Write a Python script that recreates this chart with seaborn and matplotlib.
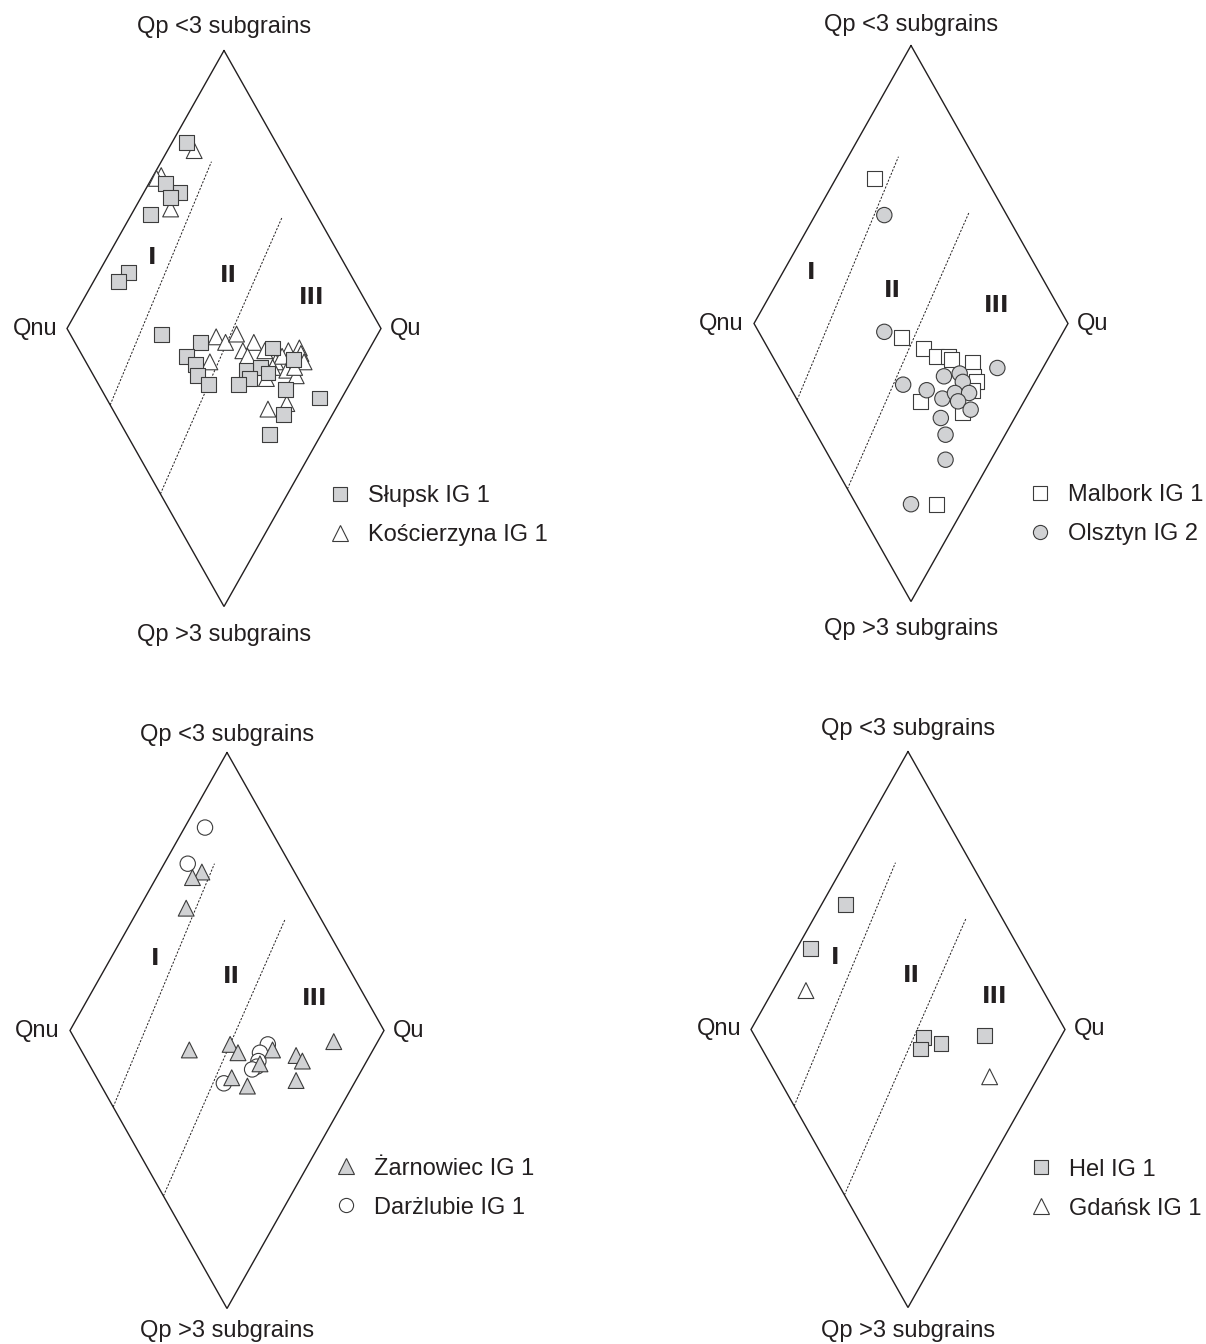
import matplotlib
matplotlib.use("Agg")
import matplotlib.pyplot as plt
from matplotlib.lines import Line2D
import pandas as pd
import seaborn as sns

sns.set_theme(style="white")
plt.rcParams["font.family"] = ["Liberation Sans", "DejaVu Sans"]

# ---------------------------------------------------------------------------
# Diamond coordinates: x = -1 at Qnu, +1 at Qu; y = +1 at "Qp <3 subgrains",
# y = -1 at "Qp >3 subgrains".
# ---------------------------------------------------------------------------

# Słupsk IG 1 (grey squares) / Kościerzyna IG 1 (open triangles)
slupsk_x = [-0.24, -0.37, -0.28, -0.34, -0.47, -0.61, -0.67, -0.40, -0.15, -0.24,
            -0.18, -0.17, -0.10, 0.31, 0.23, 0.14, 0.16, 0.28, 0.09, 0.44,
            0.39, 0.61, 0.38, 0.29]
slupsk_y = [0.67, 0.52, 0.49, 0.47, 0.41, 0.20, 0.17, -0.02, -0.05, -0.10,
            -0.13, -0.17, -0.20, -0.07, -0.14, -0.15, -0.18, -0.16, -0.20, -0.11,
            -0.22, -0.25, -0.31, -0.38]
koscierzyna_x = [-0.19, -0.40, -0.43, -0.34, -0.05, 0.01, 0.08, 0.19, 0.12, 0.15,
                 -0.09, 0.26, 0.41, 0.48, 0.49, 0.33, 0.37, 0.43, 0.51, 0.40,
                 0.46, 0.27, 0.31, 0.28, 0.40, 0.45]
koscierzyna_y = [0.64, 0.55, 0.54, 0.43, -0.03, -0.05, -0.02, -0.05, -0.08, -0.10,
                 -0.12, -0.08, -0.08, -0.07, -0.09, -0.12, -0.10, -0.14, -0.12, -0.15,
                 -0.17, -0.18, -0.14, -0.29, -0.27, -0.14]

# Malbork IG 1 (open squares) / Olsztyn IG 2 (grey circles)
malbork_x = [-0.23, -0.06, 0.08, 0.16, 0.24, 0.26, 0.39, 0.40, 0.42, 0.39, 0.06, 0.33, 0.16]
malbork_y = [0.52, -0.05, -0.09, -0.12, -0.12, -0.13, -0.14, -0.19, -0.21, -0.24, -0.28, -0.32, -0.65]
olsztyn_x = [-0.17, -0.17, -0.05, 0.10, 0.21, 0.31, 0.33, 0.20, 0.28, 0.37,
             0.30, 0.38, 0.19, 0.22, 0.22, 0.55, 0.00]
olsztyn_y = [0.39, -0.03, -0.22, -0.24, -0.19, -0.18, -0.21, -0.27, -0.25, -0.25,
             -0.28, -0.31, -0.34, -0.40, -0.49, -0.16, -0.65]

# Darżlubie IG 1 (open circles) / Żarnowiec IG 1 (grey triangles)
darzlubie_x = [-0.14, -0.25, 0.26, 0.21, 0.20, 0.19, 0.16, -0.02]
darzlubie_y = [0.73, 0.60, -0.05, -0.08, -0.11, -0.13, -0.14, -0.19]
zarnowiec_x = [-0.16, -0.22, -0.26, -0.24, 0.02, 0.07, 0.29, 0.21, 0.44, 0.48,
               0.44, 0.03, 0.13, 0.68]
zarnowiec_y = [0.57, 0.55, 0.44, -0.07, -0.05, -0.08, -0.07, -0.12, -0.09, -0.11,
               -0.18, -0.17, -0.20, -0.04]

# Hel IG 1 (grey squares) / Gdańsk IG 1 (open triangles)
hel_x = [-0.40, -0.62, 0.10, 0.21, 0.08, 0.49]
hel_y = [0.45, 0.29, -0.03, -0.05, -0.07, -0.02]
gdansk_x = [-0.65, 0.52]
gdansk_y = [0.14, -0.17]

apex_top = "Qp <3 subgrains"
apex_bottom = "Qp >3 subgrains"
apex_left = "Qnu"
apex_right = "Qu"
field_names = ["I", "II", "III"]

# ---------------------------------------------------------------------------
INK = "#231f20"
GREY = "#d1d2d4"
EDGE = "#3c3c3c"
W, H = 1206, 1344
HW, HH = 157.0, 278.0          # half-diagonals of a diamond in pixels
LIM = 1.05

STYLE = {
    "grey_square": dict(marker="s", face=GREY, size=115, leg=9.6),
    "open_square": dict(marker="s", face="white", size=115, leg=9.6),
    "open_triangle": dict(marker="^", face="white", size=130, leg=11.0),
    "grey_triangle": dict(marker="^", face=GREY, size=130, leg=11.0),
    "grey_circle": dict(marker="o", face=GREY, size=122, leg=10.2),
    "open_circle": dict(marker="o", face="white", size=122, leg=10.2),
}

panels = [
    dict(center=(224, 328.5), top_gap=17, bottom_gap=34,
         series=[("Kościerzyna IG 1", koscierzyna_x, koscierzyna_y, "open_triangle"),
                 ("Słupsk IG 1", slupsk_x, slupsk_y, "grey_square")],
         legend_order=["Słupsk IG 1", "Kościerzyna IG 1"],
         legend_at=(0.662, -0.673),
         fields=[(-0.46, 0.255), (0.025, 0.19), (0.56, 0.11)]),
    dict(center=(911, 323.5), top_gap=15, bottom_gap=34,
         series=[("Malbork IG 1", malbork_x, malbork_y, "open_square"),
                 ("Olsztyn IG 2", olsztyn_x, olsztyn_y, "grey_circle")],
         legend_order=["Malbork IG 1", "Olsztyn IG 2"],
         legend_at=(0.745, -0.687),
         fields=[(-0.637, 0.185), (-0.12, 0.12), (0.548, 0.063)]),
    dict(center=(227, 1030.5), top_gap=12, bottom_gap=29,
         series=[("Darżlubie IG 1", darzlubie_x, darzlubie_y, "open_circle"),
                 ("Żarnowiec IG 1", zarnowiec_x, zarnowiec_y, "grey_triangle")],
         legend_order=["Żarnowiec IG 1", "Darżlubie IG 1"],
         legend_at=(0.68, -0.567),
         fields=[(-0.46, 0.26), (0.025, 0.195), (0.56, 0.115)]),
    dict(center=(908, 1029.5), top_gap=16, bottom_gap=30,
         series=[("Hel IG 1", hel_x, hel_y, "grey_square"),
                 ("Gdańsk IG 1", gdansk_x, gdansk_y, "open_triangle")],
         legend_order=["Hel IG 1", "Gdańsk IG 1"],
         legend_at=(0.77, -0.574),
         fields=[(-0.465, 0.26), (0.02, 0.195), (0.554, 0.12)]),
]

fig = plt.figure(figsize=(W / 100, H / 100), dpi=100)
fig.patch.set_facecolor("white")

for p in panels:
    cx, cy = p["center"]
    left = (cx - LIM * HW) / W
    bottom = (H - (cy + LIM * HH)) / H
    ax = fig.add_axes([left, bottom, 2 * LIM * HW / W, 2 * LIM * HH / H])
    ax.set_xlim(-LIM, LIM)
    ax.set_ylim(-LIM, LIM)
    ax.axis("off")

    # outline of the diamond and the two field boundaries
    ax.plot([0, 1, 0, -1, 0], [1, 0, -1, 0, 1], color=INK, lw=1.0,
            solid_joinstyle="miter", clip_on=False, zorder=1)
    ax.plot([-0.725, -0.08], [-0.275, 0.60], color=INK, lw=0.7,
            ls=(0, (2.2, 1.6)), zorder=1)
    ax.plot([-0.405, 0.37], [-0.595, 0.40], color=INK, lw=0.7,
            ls=(0, (2.2, 1.6)), zorder=1)

    # apex labels
    ax.text(0, 1 + p["top_gap"] / HH, apex_top, ha="center", va="baseline",
            fontsize=17, color=INK)
    ax.text(0, -1 - p["bottom_gap"] / HH, apex_bottom, ha="center", va="baseline",
            fontsize=17, color=INK)
    ax.text(-1 - 10 / HW, 0, apex_left, ha="right", va="center",
            fontsize=17, color=INK)
    ax.text(1 + 9 / HW, 0, apex_right, ha="left", va="center",
            fontsize=17, color=INK)

    for name, (fx, fy) in zip(field_names, p["fields"]):
        ax.text(fx, fy, name, ha="center", va="center", fontsize=16.5,
                fontweight="bold", family="DejaVu Sans", color=INK)

    # sample points, drawn in row order so later series sit on top
    rows = []
    for site, xs, ys, key in p["series"]:
        rows += [dict(x=a, y=b, site=site) for a, b in zip(xs, ys)]
    df = pd.DataFrame(rows)
    kinds = {site: STYLE[key] for site, _, _, key in p["series"]}
    sns.scatterplot(data=df, x="x", y="y", hue="site", style="site", size="site",
                    palette={s: k["face"] for s, k in kinds.items()},
                    markers={s: k["marker"] for s, k in kinds.items()},
                    sizes={s: k["size"] for s, k in kinds.items()},
                    edgecolor=EDGE, linewidth=0.8, legend=False, ax=ax, zorder=3)

    handles = [Line2D([], [], ls="none", marker=kinds[s]["marker"],
                      markersize=kinds[s]["leg"], markerfacecolor=kinds[s]["face"],
                      markeredgecolor=EDGE, markeredgewidth=0.8)
               for s in p["legend_order"]]
    ax.legend(handles, p["legend_order"], loc="center left",
              bbox_to_anchor=p["legend_at"], bbox_transform=ax.transData,
              frameon=False, fontsize=17, handlelength=1.0, handletextpad=0.69,
              labelspacing=0.72, borderpad=0, borderaxespad=0, labelcolor=INK)

fig.savefig("out.png", dpi=100, facecolor="white")
